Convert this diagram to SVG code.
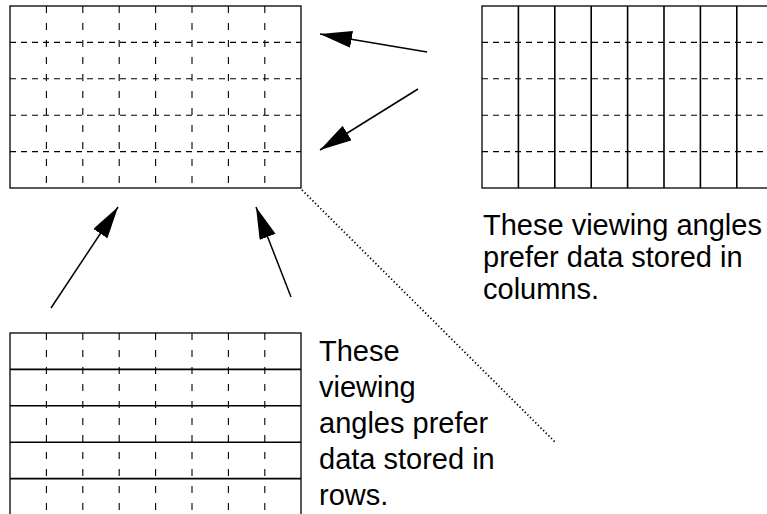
<svg xmlns="http://www.w3.org/2000/svg" width="767" height="514" viewBox="0 0 767 514">
  <style>
    .frame { fill: none; stroke: #000; stroke-width: 1.3; }
    .solid { stroke: #000; stroke-width: 1.6; fill: none; }
    .hdash { stroke: #000; stroke-width: 1.1; stroke-dasharray: 6 5; fill: none; }
    .vdash { stroke: #000; stroke-width: 1.1; stroke-dasharray: 7 10; fill: none; }
    .arrow { stroke: #000; stroke-width: 1.5; fill: none; marker-end: url(#head); }
    .dotted { stroke: #000; stroke-width: 1.8; stroke-dasharray: 1.3 2.4; fill: none; }
    .label { font-family: "Liberation Sans", Arial, sans-serif; font-size: 29px; fill: #000; }
  </style>
  <defs>
    <marker id="head" markerUnits="userSpaceOnUse" markerWidth="34" markerHeight="18" refX="32" refY="8.5" orient="auto">
      <path d="M0,0 L32,8.5 L0,17 Z" fill="#000"/>
    </marker>
  </defs>

  <rect width="767" height="514" fill="#fff"/>

  <!-- Full dashed grid: no preferred direction -->
  <g id="grid-all">
    <g class="vdash">
      <line x1="46.4" y1="6" x2="46.4" y2="188"/>
      <line x1="82.8" y1="6" x2="82.8" y2="188"/>
      <line x1="119.2" y1="6" x2="119.2" y2="188"/>
      <line x1="155.6" y1="6" x2="155.6" y2="188"/>
      <line x1="192" y1="6" x2="192" y2="188"/>
      <line x1="228.4" y1="6" x2="228.4" y2="188"/>
      <line x1="264.8" y1="6" x2="264.8" y2="188"/>
    </g>
    <g class="hdash">
      <line x1="10" y1="42.4" x2="301" y2="42.4"/>
      <line x1="10" y1="78.8" x2="301" y2="78.8"/>
      <line x1="10" y1="115.2" x2="301" y2="115.2"/>
      <line x1="10" y1="151.6" x2="301" y2="151.6"/>
    </g>
    <rect class="frame" x="10" y="6" width="291" height="182"/>
  </g>

  <!-- Column-stored grid -->
  <g id="grid-columns">
    <g class="hdash">
      <line x1="482" y1="42.4" x2="773" y2="42.4"/>
      <line x1="482" y1="78.8" x2="773" y2="78.8"/>
      <line x1="482" y1="115.2" x2="773" y2="115.2"/>
      <line x1="482" y1="151.6" x2="773" y2="151.6"/>
    </g>
    <g class="solid">
      <line x1="518.4" y1="6" x2="518.4" y2="188"/>
      <line x1="554.8" y1="6" x2="554.8" y2="188"/>
      <line x1="591.2" y1="6" x2="591.2" y2="188"/>
      <line x1="627.6" y1="6" x2="627.6" y2="188"/>
      <line x1="664" y1="6" x2="664" y2="188"/>
      <line x1="700.4" y1="6" x2="700.4" y2="188"/>
      <line x1="736.8" y1="6" x2="736.8" y2="188"/>
    </g>
    <rect class="frame" x="482" y="6" width="291" height="182"/>
  </g>

  <!-- Row-stored grid -->
  <g id="grid-rows">
    <g class="vdash">
      <line x1="46.4" y1="333" x2="46.4" y2="515"/>
      <line x1="82.8" y1="333" x2="82.8" y2="515"/>
      <line x1="119.2" y1="333" x2="119.2" y2="515"/>
      <line x1="155.6" y1="333" x2="155.6" y2="515"/>
      <line x1="192" y1="333" x2="192" y2="515"/>
      <line x1="228.4" y1="333" x2="228.4" y2="515"/>
      <line x1="264.8" y1="333" x2="264.8" y2="515"/>
    </g>
    <g class="solid">
      <line x1="10" y1="369.4" x2="301" y2="369.4"/>
      <line x1="10" y1="405.8" x2="301" y2="405.8"/>
      <line x1="10" y1="442.2" x2="301" y2="442.2"/>
      <line x1="10" y1="478.6" x2="301" y2="478.6"/>
    </g>
    <rect class="frame" x="10" y="333" width="291" height="182"/>
  </g>

  <!-- Viewing-angle arrows and the dividing diagonal -->
  <g id="connectors">
    <line class="arrow" x1="427" y1="52" x2="320" y2="34"/>
    <line class="arrow" x1="418" y1="89" x2="320" y2="150"/>
    <line class="arrow" x1="51" y1="308" x2="118" y2="207"/>
    <line class="arrow" x1="291" y1="297" x2="256" y2="207"/>
    <line class="dotted" x1="302" y1="190" x2="555" y2="442"/>
  </g>

  <g id="label-columns">
    <text class="label" x="483" y="235">These viewing angles</text>
    <text class="label" x="483" y="267">prefer data stored in</text>
    <text class="label" x="483" y="299">columns.</text>
  </g>

  <g id="label-rows">
    <text class="label" x="319" y="361">These</text>
    <text class="label" x="319" y="397">viewing</text>
    <text class="label" x="319" y="433">angles prefer</text>
    <text class="label" x="319" y="469">data stored in</text>
    <text class="label" x="319" y="505">rows.</text>
  </g>
</svg>
